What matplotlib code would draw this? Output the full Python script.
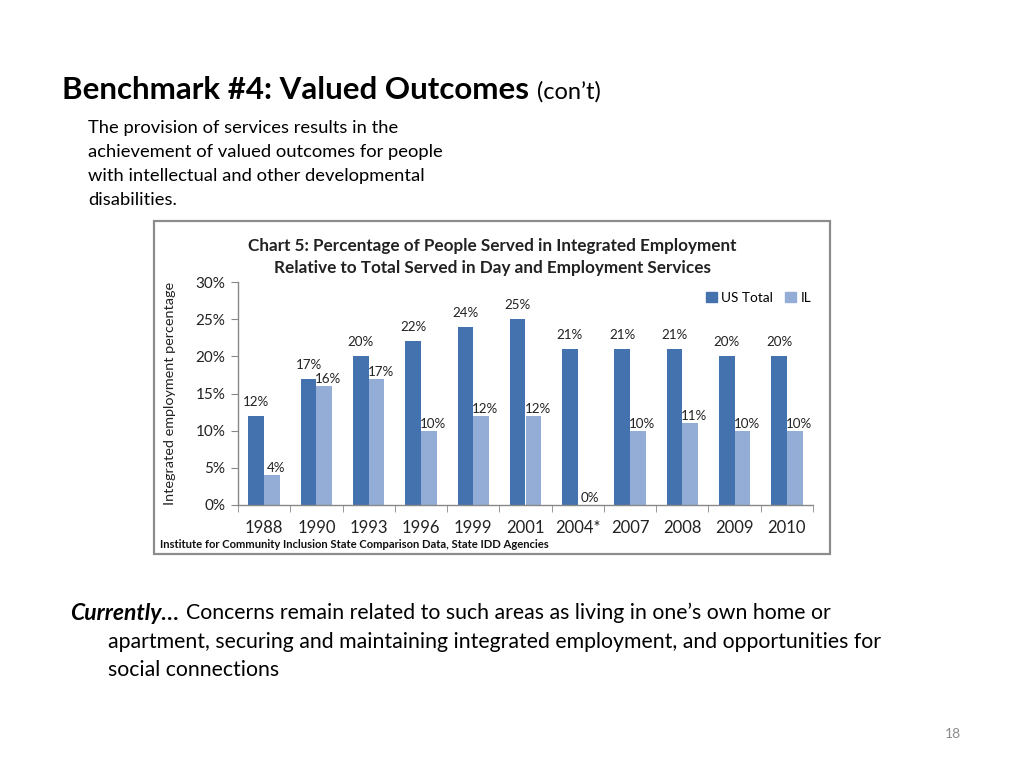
import matplotlib
matplotlib.use("Agg")
import matplotlib.pyplot as plt
from matplotlib.patches import Rectangle, Patch

plt.rcParams['font.family'] = ['Lato', 'DejaVu Sans']

years = ["1988", "1990", "1993", "1996", "1999", "2001", "2004*", "2007", "2008", "2009", "2010"]
us_total = [12, 17, 20, 22, 24, 25, 21, 21, 21, 20, 20]
il = [4, 16, 17, 10, 12, 12, 0, 10, 11, 10, 10]
yticks = [0, 5, 10, 15, 20, 25, 30]

C_US = "#4472AE"
C_IL = "#94ADD6"

W, H = 1024, 768
fig = plt.figure(figsize=(W / 100, H / 100), dpi=100)
fig.patch.set_facecolor("white")

def fx(px):
    return px / W

def fy(py):
    return 1 - py / H

# Slide title
fig.text(fx(62), fy(90), "Benchmark #4: Valued Outcomes", fontsize=22.5, fontweight="bold",
         va="center", ha="left")
fig.text(fx(537), fy(92), "(con\u2019t)", fontsize=17, va="center", ha="left")

body = ["The provision of services results in the",
        "achievement of valued outcomes for people",
        "with intellectual and other developmental",
        "disabilities."]
for i, line in enumerate(body):
    fig.text(fx(88), fy(128 + 24 * i), line, fontsize=13.2, va="center", ha="left")

# Chart box
fig.patches.append(Rectangle((fx(154), fy(554)), fx(830) - fx(154), fy(221) - fy(554),
                             transform=fig.transFigure, fill=False, edgecolor="#8c8c8c",
                             linewidth=1.6))

fig.text(fx(492), fy(246), "Chart 5: Percentage of People Served in Integrated Employment",
         fontsize=12.3, fontweight="bold", ha="center", va="center", color="#222222")
fig.text(fx(492), fy(268), "Relative to Total Served in Day and Employment Services",
         fontsize=12.3, fontweight="bold", ha="center", va="center", color="#222222")

ax = fig.add_axes([fx(238), fy(505), fx(813) - fx(238), fy(282) - fy(505)])
x = list(range(len(years)))
bw = 0.3
ax.bar([i - bw / 2 for i in x], us_total, width=bw, color=C_US, label="US Total")
ax.bar([i + bw / 2 for i in x], il, width=bw, color=C_IL, label="IL")

for i in x:
    ax.annotate(f"{us_total[i]}%", (i - bw / 2, us_total[i]), xytext=(0, 8),
                textcoords="offset pixels", ha="center", va="bottom", fontsize=9.6,
                color="#222222")
    ax.annotate(f"{il[i]}%", (i + bw / 2 + 0.08, il[i]), xytext=(0, 1),
                textcoords="offset pixels", ha="center", va="bottom", fontsize=9.6,
                color="#222222")

ax.set_xlim(-0.5, len(years) - 0.5)
ax.set_ylim(0, 30)
ax.set_yticks(yticks)
ax.set_yticklabels([f"{v}%" for v in yticks])
ax.set_xticks(x)
ax.set_xticklabels(years)
ax.set_xticks([i - 0.5 for i in range(len(years) + 1)], minor=True)
ax.tick_params(axis="x", which="major", length=0, pad=11, labelsize=12, colors="#222222")
ax.tick_params(axis="x", which="minor", length=5, color="#888888", direction="out")
ax.tick_params(axis="y", length=5, color="#888888", labelsize=11, colors="#222222", pad=4)
for sp in ["top", "right"]:
    ax.spines[sp].set_visible(False)
for sp in ["left", "bottom"]:
    ax.spines[sp].set_color("#888888")
    ax.spines[sp].set_linewidth(1.0)
ax.set_facecolor("none")

fig.text(fx(170), fy(393), "Integrated employment percentage", rotation=90, fontsize=10.4,
         ha="center", va="center", color="#222222")

handles = [Patch(color=C_US, label="US Total"), Patch(color=C_IL, label="IL")]
fig.legend(handles=handles, loc="center right", bbox_to_anchor=(fx(811), fy(298)), ncol=2,
           frameon=False, fontsize=9.8, handlelength=0.8, handleheight=0.8,
           handletextpad=0.3, columnspacing=0.9, borderpad=0, borderaxespad=0)

fig.text(fx(160), fy(545), "Institute for Community Inclusion State Comparison Data, State IDD Agencies",
         fontsize=8.1, fontweight="bold", ha="left", va="center", color="#111111")

# Bottom text
fig.text(fx(70), fy(613), "Currently\u2026", fontsize=16.5, fontweight="bold", style="italic",
         ha="left", va="center")
fig.text(fx(186), fy(613), "Concerns remain related to such areas as living in one\u2019s own home or",
         fontsize=15.3, ha="left", va="center")
fig.text(fx(108), fy(642), "apartment, securing and maintaining integrated employment, and opportunities for",
         fontsize=15.3, ha="left", va="center")
fig.text(fx(108), fy(670), "social connections", fontsize=15.3, ha="left", va="center")

fig.text(fx(961), fy(734), "18", fontsize=10, color="#8c8c8c", ha="right", va="center")

fig.savefig("out.png", dpi=100, facecolor="white")
